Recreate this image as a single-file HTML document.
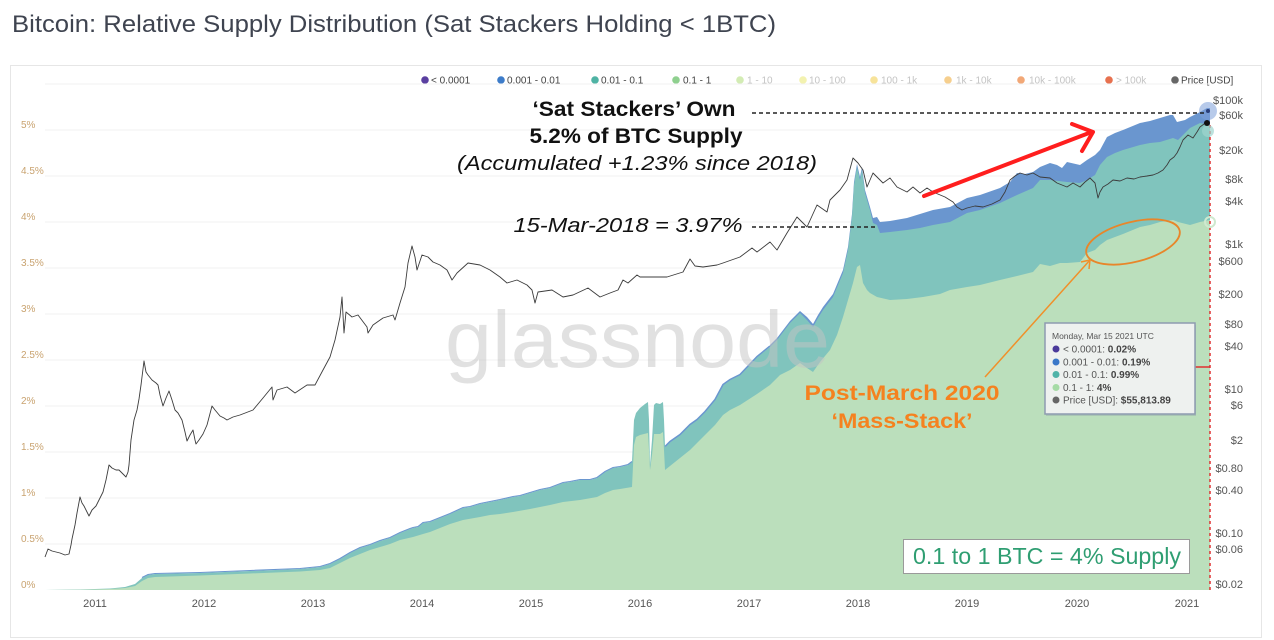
<!DOCTYPE html>
<html><head><meta charset="utf-8"><style>
html,body{margin:0;padding:0;background:#fff;}
svg{display:block;}
text{font-family:"Liberation Sans",Arial,sans-serif;}
</style></head><body>
<svg width="1274" height="640" viewBox="0 0 1274 640" xmlns="http://www.w3.org/2000/svg">
<rect width="1274" height="640" fill="#fff"/>
<text x="12" y="32" font-size="24" fill="#3f4450" textLength="764" lengthAdjust="spacingAndGlyphs">Bitcoin: Relative Supply Distribution (Sat Stackers Holding &lt; 1BTC)</text>
<rect x="10.5" y="65.5" width="1251" height="572" fill="#fff" stroke="#e6e6e6"/>

<!-- legend -->
<g font-size="10">
<circle cx="425" cy="80" r="3.8" fill="#5a3fa0"/><text x="431" y="83.5" fill="#444">&lt; 0.0001</text>
<circle cx="501" cy="80" r="3.8" fill="#3d7cc9"/><text x="507" y="83.5" fill="#444">0.001 - 0.01</text>
<circle cx="595" cy="80" r="3.8" fill="#4fb3a4"/><text x="601" y="83.5" fill="#444">0.01 - 0.1</text>
<circle cx="676" cy="80" r="3.8" fill="#8fd08f"/><text x="683" y="83.5" fill="#444">0.1 - 1</text>
<circle cx="740" cy="80" r="3.8" fill="#d3ecb4"/><text x="747" y="83.5" fill="#c4c4c4">1 - 10</text>
<circle cx="803" cy="80" r="3.8" fill="#f3f2b0"/><text x="809" y="83.5" fill="#c4c4c4">10 - 100</text>
<circle cx="874" cy="80" r="3.8" fill="#f7e39a"/><text x="881" y="83.5" fill="#c4c4c4">100 - 1k</text>
<circle cx="948" cy="80" r="3.8" fill="#f6cf8e"/><text x="956" y="83.5" fill="#c4c4c4">1k - 10k</text>
<circle cx="1021" cy="80" r="3.8" fill="#f2a877"/><text x="1029" y="83.5" fill="#c4c4c4">10k - 100k</text>
<circle cx="1109" cy="80" r="3.8" fill="#e7714f"/><text x="1116" y="83.5" fill="#c4c4c4">&gt; 100k</text>
<circle cx="1175" cy="80" r="3.8" fill="#666"/><text x="1181" y="83.5" fill="#444">Price [USD]</text>
</g>

<!-- gridlines -->
<g stroke="#f0f0f0" stroke-width="1">
<line x1="45" y1="84" x2="1210" y2="84"/>
<line x1="45" y1="130" x2="1210" y2="130"/>
<line x1="45" y1="176" x2="1210" y2="176"/>
<line x1="45" y1="222" x2="1210" y2="222"/>
<line x1="45" y1="268" x2="1210" y2="268"/>
<line x1="45" y1="314" x2="1210" y2="314"/>
<line x1="45" y1="360" x2="1210" y2="360"/>
<line x1="45" y1="406" x2="1210" y2="406"/>
<line x1="45" y1="452" x2="1210" y2="452"/>
<line x1="45" y1="498" x2="1210" y2="498"/>
<line x1="45" y1="544" x2="1210" y2="544"/>
</g>

<!-- left axis -->
<g font-size="10" fill="#c9a370">
<text x="21" y="128">5%</text>
<text x="21" y="174">4.5%</text>
<text x="21" y="220">4%</text>
<text x="21" y="266">3.5%</text>
<text x="21" y="312">3%</text>
<text x="21" y="358">2.5%</text>
<text x="21" y="404">2%</text>
<text x="21" y="450">1.5%</text>
<text x="21" y="496">1%</text>
<text x="21" y="542">0.5%</text>
<text x="21" y="588">0%</text>
</g>

<!-- right axis -->
<g font-size="11" fill="#555" text-anchor="end">
<text x="1243" y="104">$100k</text>
<text x="1243" y="119">$60k</text>
<text x="1243" y="154">$20k</text>
<text x="1243" y="183">$8k</text>
<text x="1243" y="205">$4k</text>
<text x="1243" y="248">$1k</text>
<text x="1243" y="265">$600</text>
<text x="1243" y="298">$200</text>
<text x="1243" y="328">$80</text>
<text x="1243" y="350">$40</text>
<text x="1243" y="393">$10</text>
<text x="1243" y="409">$6</text>
<text x="1243" y="444">$2</text>
<text x="1243" y="472">$0.80</text>
<text x="1243" y="494">$0.40</text>
<text x="1243" y="537">$0.10</text>
<text x="1243" y="553">$0.06</text>
<text x="1243" y="588">$0.02</text>
</g>

<!-- x axis -->
<g font-size="11" fill="#555" text-anchor="middle">
<text x="95" y="607">2011</text>
<text x="204" y="607">2012</text>
<text x="313" y="607">2013</text>
<text x="422" y="607">2014</text>
<text x="531" y="607">2015</text>
<text x="640" y="607">2016</text>
<text x="749" y="607">2017</text>
<text x="858" y="607">2018</text>
<text x="967" y="607">2019</text>
<text x="1077" y="607">2020</text>
<text x="1187" y="607">2021</text>
</g>

<!-- areas -->
<polygon fill="#6a96cf" points="770,590 770,345 777,338 790,321 800,311 807,317 813,324 818,315 823,307 833,294 843,270 848,247 852,214 854,182 857,164 860,177 862,167 865,190 870,207 873,218 877,217 880,222 890,221 907,218 920,214 933,210 950,207 967,198 980,195 1000,188 1010,182 1017,173 1025,174 1033,172 1040,167 1050,163 1057,165 1062,168 1067,162 1080,165 1087,160 1095,155 1100,150 1107,137 1115,133 1123,130 1140,123 1150,121 1160,118 1170,115 1173,115 1177,122 1185,120 1190,117 1200,112 1207,108 1210,108 1210,590"/>
<polygon fill="#80c4bd" points="45,590 80,589.5 110,588.5 125,587 135,584 142,578 148,575 155,574 200,573 250,571 300,569 320,567 330,564 340,559 350,553 360,548 370,545 380,541 390,538 400,533 410,529 413,528 418,527 423,523 430,522 440,518 450,514 463,508 470,507 480,504 490,502 500,500 513,497 520,496 530,493 540,490 550,488 563,483 570,482 580,480 590,480 597,478 605,472 613,468 620,467 628,465 632,462 634,420 636,413 640,408 645,404 648,402 649,420 650,465 652,440 654,405 656,403 660,404 663,402 664,420 665,447 670,442 680,435 690,425 697,420 705,412 715,400 723,385 730,380 740,375 757,357 770,347 777,340 790,323 800,313 807,320 813,327 818,318 823,310 833,297 843,273 848,250 852,217 854,185 857,167 860,180 862,170 865,193 870,210 873,223 877,225 880,233 890,232 907,230 920,228 933,225 950,222 967,213 980,210 1000,203 1017,195 1033,188 1040,180 1050,180 1067,182 1080,183 1087,180 1095,175 1100,165 1107,157 1115,153 1123,150 1140,145 1150,143 1160,142 1173,138 1178,140 1185,133 1190,128 1200,123 1210,125 1210,590"/>
<polyline fill="none" stroke="#6a96cf" stroke-width="1.1" points="142,577.5 148,574.5 155,573.5 200,572.5 250,570.5 300,568.5 320,566.5 330,563.5 340,558.5 350,552.5 360,547.5 370,544.5 380,540.5 390,537.5 400,532.5 410,528.5 413,527.5 418,526.5 423,522.5 430,521.5 440,517.5 450,513.5 463,507.5 470,506.5 480,503.5 490,501.5 500,499.5 513,496.5 520,495.5 530,492.5 540,489.5 550,487.5 563,482.5 570,481.5 580,479.5 590,479.5 597,477.5 605,471.5 613,467.5 620,466.5 628,464.5 632,461.5"/>
<polyline fill="none" stroke="#6a96cf" stroke-width="1.5" points="665,446.5 670,441.5 680,434.5 690,424.5 697,419.5 705,411.5 715,399.5 723,384.5 730,379.5 740,374.5 757,356.5 770,346"/>
<polygon fill="#bbdfbc" points="45,590 80,589.7 110,589 125,588 135,586 142,581 148,578 155,577 200,575.5 250,573.5 300,571.5 320,570 330,568 340,563 350,558 360,554 370,550 380,547 390,544 400,540 413,537 423,534 430,532 440,528 450,524 463,520 480,517 490,515 500,514 513,512 530,509 540,507 550,505 563,502 580,500 597,497 605,493 613,490 620,489 632,487 634,445 636,437 640,435 648,433 649,450 650,470 652,455 654,434 660,434 663,432 664,450 665,470 670,466 680,458 690,450 697,443 705,435 715,425 723,415 730,410 740,405 757,394 770,385 780,375 790,370 800,363 807,368 813,372 820,362 830,350 837,335 843,317 848,300 853,283 857,267 860,265 863,283 867,290 870,293 877,297 890,300 907,299 923,297 940,294 950,290 967,287 980,285 1000,280 1017,276 1033,272 1040,264 1050,266 1060,263 1067,263 1080,262 1087,253 1095,250 1100,245 1107,240 1115,237 1123,234 1140,227 1150,225 1160,222 1173,220 1178,222 1190,225 1200,222 1210,220 1210,590"/>

<!-- watermark -->
<text x="445" y="367" font-size="80" fill="#c4c4c4" opacity="0.5" textLength="385" lengthAdjust="spacingAndGlyphs">glassnode</text>

<!-- price -->
<polyline fill="none" stroke="#3c3c3c" stroke-width="0.9" stroke-linejoin="round" points="45,557 48,549 52,551 56,552 60,553 65,555 69,554 71,545 72,539 75,525 77,513 80,497 82,503 84,506 87,512 89,516 92,510 96,506 100,498 103,492 106,480 109,465 112,468 116,470 119,470 122,473 126,477 128,472 129,465 131,440 134,420 137,410 139,399 141,385 144,361 146,372 148,375 152,380 156,383 158,385 160,395 163,406 166,398 169,391 172,400 175,410 178,413 182,420 185,432 187,441 190,435 193,430 195,440 196,444 199,440 203,434 207,425 212,406 215,410 220,416 224,418 227,420 233,417 240,415 253,410 263,398 272,387 273,400 277,390 287,387 295,393 307,385 315,385 323,370 330,357 335,340 340,317 342,297 344,333 346,312 352,317 358,315 367,327 368,333 373,325 383,318 393,315 395,320 400,303 405,287 408,263 412,246 415,257 417,270 422,255 428,257 433,262 440,265 447,270 452,280 457,273 468,263 480,265 490,270 500,277 507,283 517,280 527,285 532,290 535,303 538,292 552,290 563,297 573,295 588,288 600,297 610,293 618,290 623,280 628,283 637,275 640,277 650,277 667,277 683,272 690,259 695,266 703,267 717,265 723,263 740,257 752,248 757,252 770,242 777,250 787,233 797,217 807,227 817,205 827,212 830,200 840,190 847,180 853,158 858,163 863,170 867,187 873,173 883,183 890,178 897,187 907,192 913,187 920,193 927,188 933,192 945,197 953,202 957,207 962,210 967,208 975,206 983,207 992,204 1000,200 1005,192 1010,180 1015,176 1020,173 1027,175 1033,173 1040,177 1050,178 1057,183 1067,187 1073,183 1080,187 1085,182 1090,178 1095,183 1098,198 1100,192 1103,187 1108,184 1113,180 1120,181 1127,178 1134,179 1140,177 1147,176 1153,175 1158,173 1163,170 1167,165 1170,160 1174,157 1177,153 1180,147 1183,140 1188,135 1193,138 1197,132 1200,127 1204,124 1207,122"/>

<!-- red dashed crosshair -->
<line x1="1210" y1="125" x2="1210" y2="592" stroke="#e03030" stroke-width="1.5" stroke-dasharray="3,3"/>
<line x1="1195" y1="367" x2="1210" y2="367" stroke="#e03030" stroke-width="1.5"/>

<!-- hover markers -->
<circle cx="1208" cy="111" r="9" fill="#7c9fd8" opacity="0.55"/>
<circle cx="1208" cy="111" r="2" fill="#2a3f7a"/>
<circle cx="1208" cy="131" r="6" fill="#9fd6cf" opacity="0.7"/>
<circle cx="1207" cy="123" r="3" fill="#111"/>
<circle cx="1210" cy="222" r="5" fill="none" stroke="#cfe9cf" stroke-width="2"/>

<!-- dashed annotations -->
<line x1="752" y1="113" x2="1205" y2="113" stroke="#222" stroke-width="1.5" stroke-dasharray="4,3"/>
<line x1="752" y1="227" x2="878" y2="227" stroke="#222" stroke-width="1.5" stroke-dasharray="4,3"/>

<!-- text annotations -->
<text x="634" y="116" font-size="21" font-weight="bold" fill="#111" text-anchor="middle" textLength="203" lengthAdjust="spacingAndGlyphs">‘Sat Stackers’ Own</text>
<text x="636" y="143" font-size="21" font-weight="bold" fill="#111" text-anchor="middle" textLength="213" lengthAdjust="spacingAndGlyphs">5.2% of BTC Supply</text>
<text x="637" y="170" font-size="20" font-style="italic" fill="#111" text-anchor="middle" textLength="360" lengthAdjust="spacingAndGlyphs">(Accumulated +1.23% since 2018)</text>
<text x="628" y="232" font-size="20" font-style="italic" fill="#111" text-anchor="middle" textLength="229" lengthAdjust="spacingAndGlyphs">15-Mar-2018 = 3.97%</text>

<!-- red arrow -->
<line x1="924" y1="196" x2="1089" y2="133" stroke="#ff1e1e" stroke-width="4" stroke-linecap="round"/>
<polyline points="1072,124 1093,132 1082,151" fill="none" stroke="#ff1e1e" stroke-width="4" stroke-linecap="round" stroke-linejoin="round"/>

<!-- orange annotation -->
<ellipse cx="1133" cy="242" rx="48" ry="20" transform="rotate(-14 1133 242)" fill="none" stroke="#e8862a" stroke-width="1.8"/>
<line x1="985" y1="377" x2="1090" y2="260" stroke="#f0902a" stroke-width="1.5"/>
<polyline points="1081,262 1090,260 1089,269" fill="none" stroke="#f0902a" stroke-width="1.5"/>
<text x="902" y="400" font-size="21" font-weight="bold" fill="#f5821f" text-anchor="middle" textLength="195" lengthAdjust="spacingAndGlyphs">Post-March 2020</text>
<text x="902" y="428" font-size="21" font-weight="bold" fill="#f5821f" text-anchor="middle" textLength="141" lengthAdjust="spacingAndGlyphs">‘Mass-Stack’</text>

<!-- tooltip -->
<rect x="1046" y="325" width="150" height="91" fill="#8a94a6" opacity="0.35"/>
<rect x="1045" y="323" width="150" height="91" fill="#eef1ef" stroke="#8e9bb0" stroke-width="1.5"/>
<text x="1052" y="339" font-size="8.5" fill="#555">Monday, Mar 15 2021 UTC</text>
<g font-size="10" fill="#555">
<circle cx="1056" cy="349" r="3.5" fill="#4b3a9a"/><text x="1063" y="352.5">&lt; 0.0001: <tspan font-weight="bold" fill="#444">0.02%</tspan></text>
<circle cx="1056" cy="362" r="3.5" fill="#3a78c8"/><text x="1063" y="365.5">0.001 - 0.01: <tspan font-weight="bold" fill="#444">0.19%</tspan></text>
<circle cx="1056" cy="374.5" r="3.5" fill="#4fb3a8"/><text x="1063" y="378">0.01 - 0.1: <tspan font-weight="bold" fill="#444">0.99%</tspan></text>
<circle cx="1056" cy="387.5" r="3.5" fill="#a6dba6"/><text x="1063" y="391">0.1 - 1: <tspan font-weight="bold" fill="#444">4%</tspan></text>
<circle cx="1056" cy="400" r="3.5" fill="#666"/><text x="1063" y="403.5">Price [USD]: <tspan font-weight="bold" fill="#444">$55,813.89</tspan></text>
</g>

<!-- green box -->
<rect x="903.5" y="539.5" width="286" height="34" fill="#fff" stroke="#9a9a9a" stroke-width="1"/>
<text x="913" y="564" font-size="23" fill="#2f9e72" textLength="268" lengthAdjust="spacingAndGlyphs">0.1 to 1 BTC = 4% Supply</text>
</svg>
</body></html>
